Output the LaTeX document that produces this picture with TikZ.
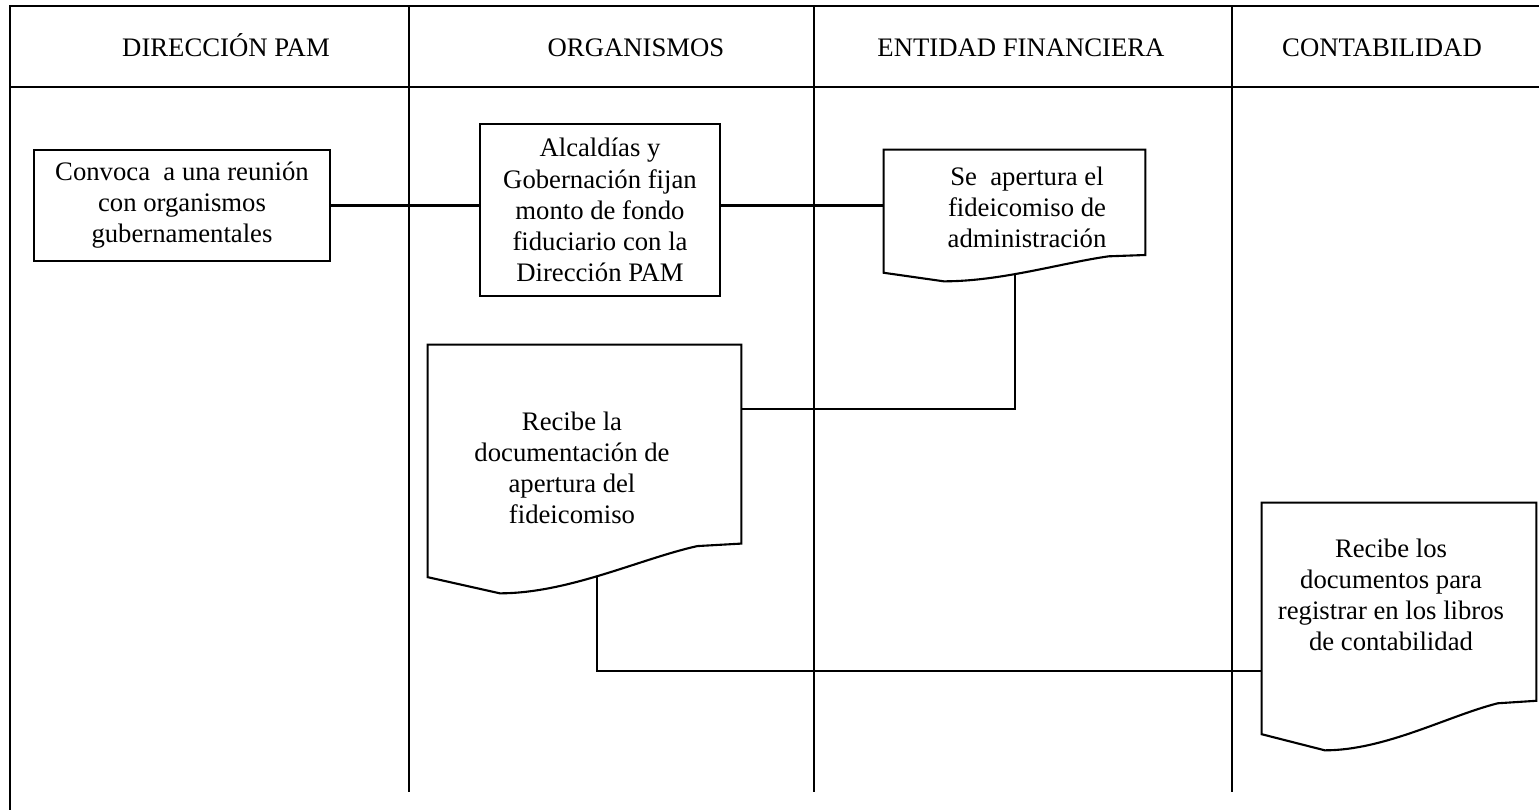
\documentclass[tikz,border=0pt]{standalone}
\usepackage{fontspec}
\setmainfont{Liberation Serif}
\usetikzlibrary{positioning, calc}

% document shape: outline with a wavy bottom edge
\newcommand{\docframe}[2][0.56]{%
  \begin{scope}[shift={(#2.north west)},
      x={($(#2.north east)-(#2.north west)$)},
      y={($(#2.south west)-(#2.north west)$)}]
    \draw[docline] (0,0) -- (1,0) -- (1,0.8) -- (0.86,0.81)
      .. controls (0.68,0.86) and (0.45,1) .. (0.23,1)
      coordinate[pos=#1] (#2-foot) -- (0,0.935) -- cycle;
  \end{scope}}

% text of a document shape: width, height, top gap, sideways shift
\newcommand{\doctext}[5]{%
  \parbox[c][#2][t]{#1}{\centering
    \leftskip=\dimexpr0.3cm+(#4)\relax plus 1fil
    \rightskip=\dimexpr0.3cm-(#4)\relax plus 1fil
    \vspace*{#3}#5}}

\begin{document}
\begin{tikzpicture}[x=0.02cm, y=-0.02cm,
    font=\fontsize{15.2}{17.7}\selectfont,
    lane/.style={inner sep=0pt, anchor=base},
    task/.style={draw, line width=1.2pt, align=center, inner sep=0pt},
    doc/.style={inner sep=0pt},
    docline/.style={line width=1.2pt},
    link/.style={line width=1.2pt},
    rule/.style={line width=1.3pt},
]

\useasboundingbox (0,0) rectangle (1539,810);

% Swimlane grid
\draw[rule] (10,810) -- (10,6) -- (1539,6);
\draw[rule] (10,87) -- (1539,87);
\foreach \x in {409,814,1232}
  \draw[rule] (\x,6) -- (\x,792);

% Lane headings
\node[lane] (hdir) at (226,57) {DIRECCIÓN PAM};
\node[lane] (horg) at (636,57) {ORGANISMOS};
\node[lane] (hent) at (1021,57) {ENTIDAD FINANCIERA};
\node[lane] (hcon) at (1382,57) {CONTABILIDAD};

% Steps
\node[task, minimum width=5.92cm, minimum height=2.22cm] (convoca) at (182,205.5)
  {Convoca~ a una reunión\\con organismos\\gubernamentales};
\node[task, minimum width=4.8cm, minimum height=3.44cm] (alcaldias) at (600,210)
  {Alcaldías y\\Gobernación fijan\\monto de fondo\\fiduciario con la\\Dirección PAM};

% Documents
\node[doc] (apertura) at (1014.5,215.5)
  {\doctext{5.22cm}{2.62cm}{0.33cm}{0.25cm}{Se~ apertura el\\fideicomiso de\\administración}};
\node[doc] (recibe) at (584.5,469)
  {\doctext{6.26cm}{4.96cm}{1.33cm}{-0.25cm}{Recibe la\\documentación de\\apertura del\\fideicomiso}};
\node[doc] (libros) at (1399,626.5)
  {\doctext{5.48cm}{4.94cm}{0.71cm}{-0.16cm}{Recibe los\\documentos para\\registrar en los libros\\de contabilidad}};
\docframe[0.59]{apertura}
\docframe[0.53]{recibe}
\docframe{libros}

% Connectors
\draw[link] (convoca.east) -- (convoca.east -| alcaldias.west);
\draw[link] (alcaldias.east |- convoca.east) -- (convoca.east -| apertura.west);
\draw[link] (apertura-foot) |- ($(recibe.north east)!0.26!(recibe.south east)$);
\draw[link] (recibe-foot) |- ($(libros.north west)!0.68!(libros.south west)$);

\end{tikzpicture}
\end{document}
